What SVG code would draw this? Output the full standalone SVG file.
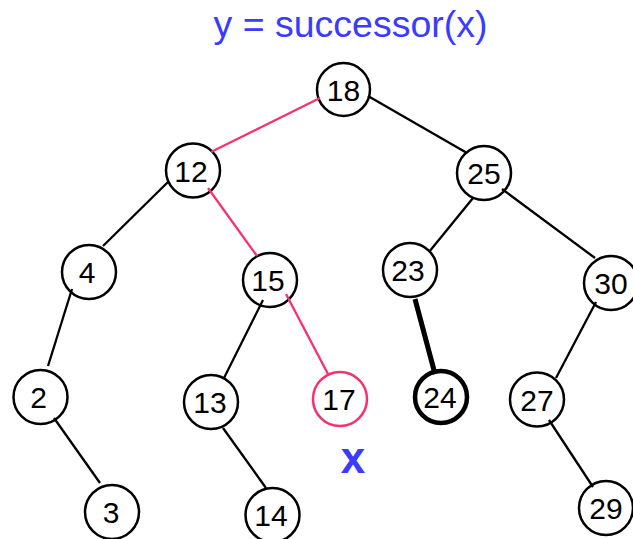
<svg xmlns="http://www.w3.org/2000/svg" width="633" height="539" viewBox="0 0 633 539">
<style>
.n circle{fill:#fff;stroke:#000;stroke-width:2.5}
.n text{font-family:"Liberation Sans",Arial,sans-serif;font-size:30px;fill:#000;text-anchor:middle}
.e line{stroke:#000;stroke-width:2.3;stroke-linecap:butt}
.e line.p{stroke:#f7306f}
.e line.t{stroke-width:5}
.lbl{font-family:"Liberation Sans",Arial,sans-serif;fill:#3b3bff;text-anchor:middle}
</style>
<rect width="633" height="539" fill="#fff"/>
<text class="lbl" x="350.5" y="37" font-size="37.5">y = successor(x)</text>
<g id="n18" class="n"><circle cx="343.5" cy="89.5" r="26.5"/><text x="343.5" y="101">18</text></g>
<g id="n12" class="n"><circle cx="193" cy="170.5" r="27"/><text x="191" y="182">12</text></g>
<g id="n25" class="n"><circle cx="484" cy="173" r="27"/><text x="484" y="184">25</text></g>
<g id="n4" class="n"><circle cx="89" cy="272" r="27"/><text x="87" y="283">4</text></g>
<g id="n15" class="n"><circle cx="270" cy="280" r="27"/><text x="268" y="291">15</text></g>
<g id="n23" class="n"><circle cx="410" cy="270" r="27"/><text x="408" y="281">23</text></g>
<g id="n30" class="n"><circle cx="611" cy="283" r="27"/><text x="611" y="294">30</text></g>
<g id="n2" class="n"><circle cx="40.5" cy="397" r="27"/><text x="38.5" y="408">2</text></g>
<g id="n13" class="n"><circle cx="211" cy="402" r="27"/><text x="210" y="413">13</text></g>
<g id="n17" class="n"><circle cx="340" cy="399" r="27" style="stroke:#f7306f"/><text x="339" y="410">17</text></g>
<g id="n24" class="n"><circle cx="441" cy="397" r="26" style="stroke-width:4.5"/><text x="440" y="408">24</text></g>
<g id="n27" class="n"><circle cx="537" cy="399.5" r="27"/><text x="537" y="411">27</text></g>
<g id="n3" class="n"><circle cx="112" cy="512" r="27"/><text x="111" y="523">3</text></g>
<g id="n14" class="n"><circle cx="272.5" cy="515" r="27"/><text x="271" y="526">14</text></g>
<g id="n29" class="n"><circle cx="606" cy="508" r="27"/><text x="606" y="519">29</text></g>
<g id="connectors" class="e">
<line class="p" x1="320" y1="98" x2="211" y2="152"/>
<line x1="368" y1="96" x2="467" y2="153"/>
<line x1="168" y1="182" x2="103" y2="246"/>
<line class="p" x1="208" y1="188" x2="257" y2="256"/>
<line x1="72" y1="289" x2="48" y2="366"/>
<line x1="54" y1="418" x2="100" y2="483"/>
<line x1="263" y1="300" x2="224" y2="378"/>
<line class="p" x1="286" y1="294" x2="328" y2="374"/>
<line x1="223" y1="428" x2="266" y2="488"/>
<line x1="473" y1="198" x2="429" y2="252"/>
<line x1="502" y1="189" x2="595" y2="258"/>
<line class="t" x1="415" y1="299" x2="435" y2="374"/>
<line x1="596" y1="302" x2="556" y2="378"/>
<line x1="549" y1="420" x2="593" y2="487"/>
</g>
<text class="lbl" x="353" y="473" font-size="44" font-weight="bold">x</text>
</svg>
